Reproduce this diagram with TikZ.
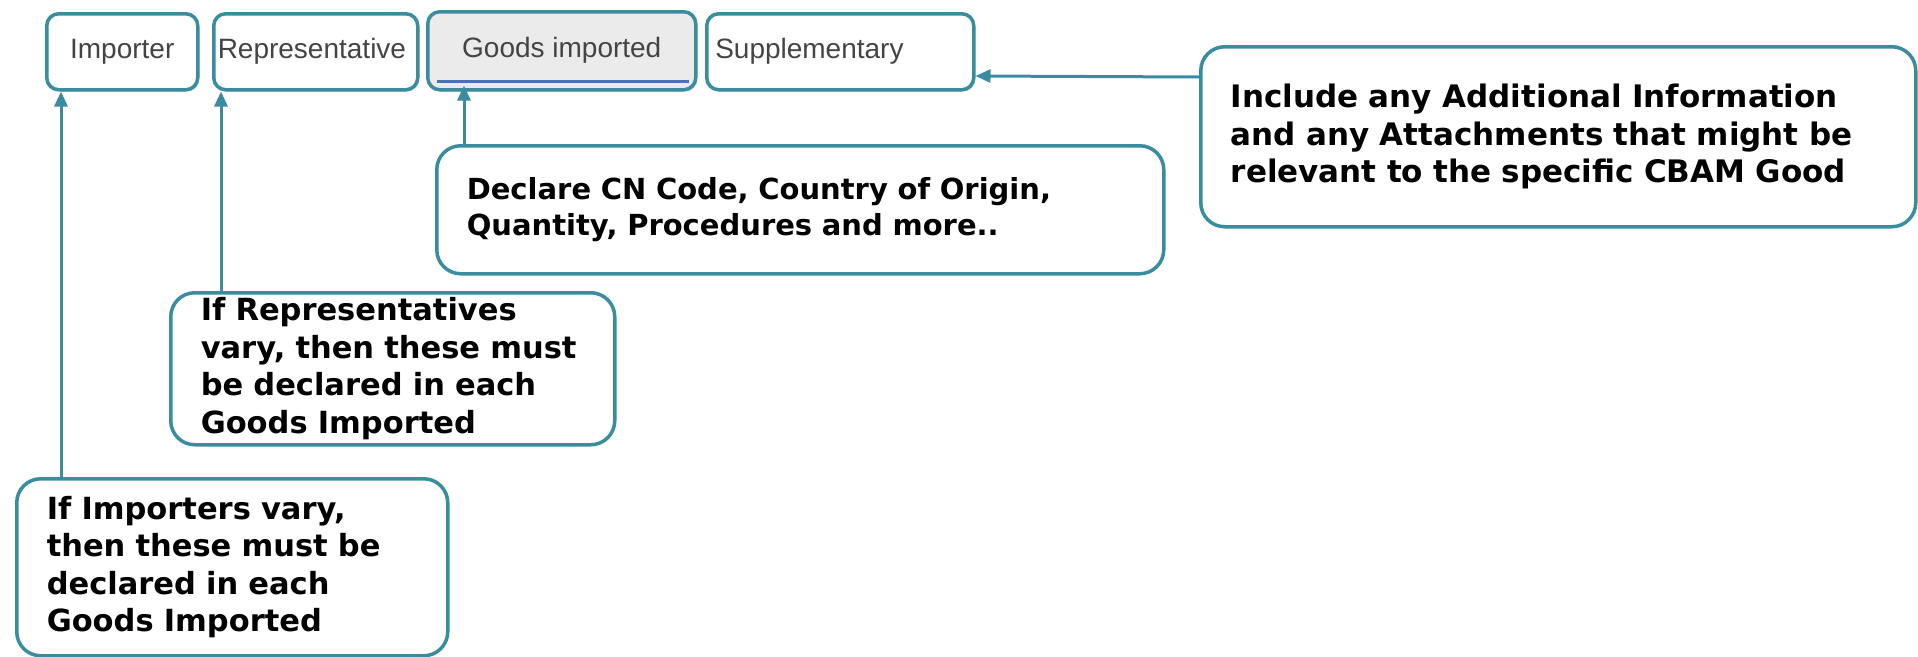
\documentclass[tikz,border=0pt]{standalone}
\usepackage{fontspec}
\setmainfont{DejaVu Sans}
\newfontfamily\tabfont{Liberation Sans}
\usetikzlibrary{arrows.meta,shadows}
\definecolor{tealline}{HTML}{3A8D9E}
\definecolor{tabtext}{HTML}{444444}
\definecolor{uline}{HTML}{4A72B8}
\begin{document}
\begin{tikzpicture}[x=1pt,y=-1pt,
  tabbox/.style={draw=tealline, line width=3.5pt, rounded corners=12pt, fill=white,
    font=\tabfont\fontsize{28}{32}\selectfont, text=tabtext, anchor=north west, inner sep=0pt,
    drop shadow={opacity=0.25, shadow xshift=1.5pt, shadow yshift=-2pt}},
  callout/.style={draw=tealline, line width=3.5pt, rounded corners=24pt, fill=white,
    anchor=north west, align=left, font=\bfseries\fontsize{30.5}{37.5}\selectfont,
    inner xsep=30pt, inner ysep=0pt},
  conn/.style={draw=tealline, line width=3pt, -{Triangle[length=15pt,width=13pt]}}]
\useasboundingbox[fill=white] (0,0) rectangle (1918,656);

% tabs
\node[tabbox, minimum width=151pt, minimum height=76pt] (timp) at (45,12) {Importer};
\node[tabbox, minimum width=204pt, minimum height=76pt, text width=196pt, align=left] (trep) at (212,12) {Representative};
\node[tabbox, minimum width=268pt, minimum height=78pt, fill=black!8] (tgoods) at (426,10) {Goods imported};
\node[tabbox, minimum width=267pt, minimum height=76pt, text width=250pt, align=left] (tsup) at (705,12) {Supplementary};
\draw[uline, line width=3pt] ([xshift=11pt,yshift=10pt]tgoods.south west) -- ([xshift=-9pt,yshift=10pt]tgoods.south east);

% callouts
\node[callout, text width=655pt, minimum height=180pt, font=\bfseries\fontsize{31}{37.5}\selectfont] (cadd) at (1199,45)
  {Include any Additional Information\\and any Attachments that might be\\relevant to the specific CBAM Good};
\node[callout, text width=667pt, minimum height=128pt, font=\bfseries\fontsize{29}{36}\selectfont] (cgoods) at (435,144)
  {Declare CN Code, Country of Origin,\\Quantity, Procedures and more..};
\node[callout, text width=384pt, minimum height=152pt] (crep) at (169,291)
  {If Representatives\\vary, then these must\\be declared in each\\Goods Imported};
\node[callout, text width=371pt, minimum height=177pt] (cimp) at (15,477)
  {If Importers vary,\\then these must be\\declared in each\\Goods Imported};

% connectors
\draw[conn] ([xshift=16pt]timp.south west |- cimp.north) -- ([xshift=16pt]timp.south west);
\draw[conn] ([xshift=9pt]trep.south west |- crep.north) -- ([xshift=9pt]trep.south west);
\draw[conn] ([xshift=38pt]tgoods.south west |- cgoods.north) -- ([xshift=38pt,yshift=6pt]tgoods.south west);
\draw[conn] ([yshift=-32pt]cadd.north west) -- ([yshift=-64pt]tsup.north east);
\end{tikzpicture}
\end{document}
